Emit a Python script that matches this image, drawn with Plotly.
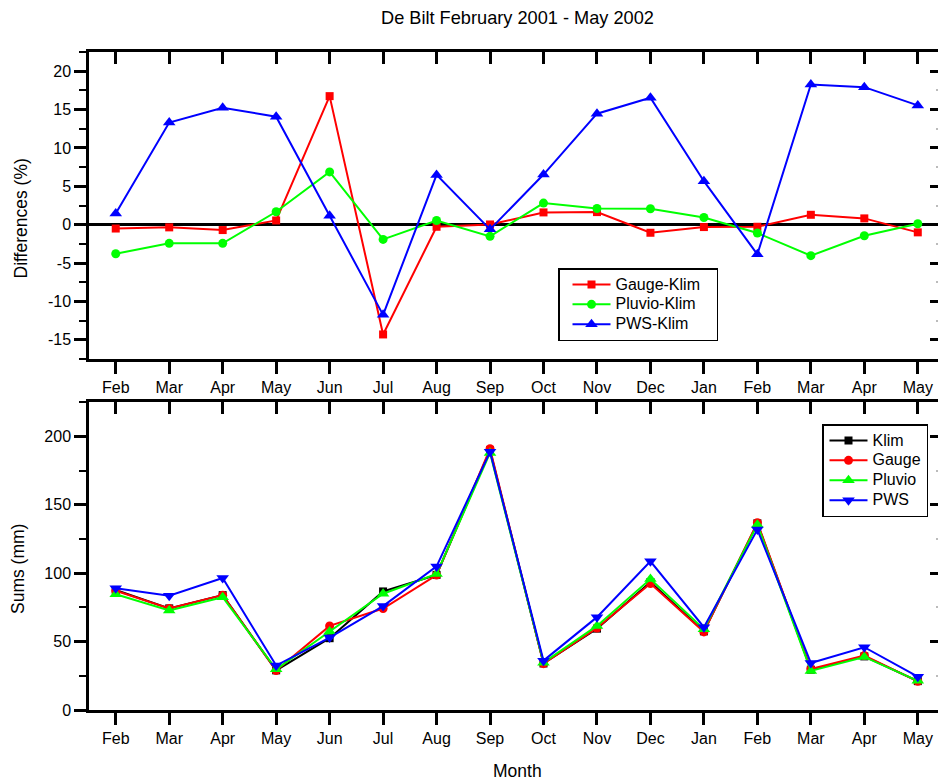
import plotly.graph_objects as go

# Monthly series, February 2001 - May 2002
months = ["Feb", "Mar", "Apr", "May", "Jun", "Jul", "Aug", "Sep",
          "Oct", "Nov", "Dec", "Jan", "Feb", "Mar", "Apr", "May"]

# Relative differences against Klim (%)
gauge_klim = [-0.5, -0.35, -0.7, 0.55, 16.75, -14.3, -0.27, 0.03,
              1.6, 1.64, -1.05, -0.31, -0.27, 1.29, 0.82, -1.0]
pluvio_klim = [-3.78, -2.43, -2.43, 1.68, 6.88, -1.92, 0.55, -1.52,
               2.81, 2.11, 2.07, 0.94, -1.09, -4.04, -1.44, 0.12]
pws_klim = [1.47, 13.3, 15.24, 14.07, 1.16, -11.75, 6.49, -0.61,
            6.53, 14.46, 16.54, 5.67, -3.86, 18.27, 17.92, 15.54]

# Monthly sums (mm)
klim = [87.8, 74.3, 84.0, 29.0, 52.5, 86.7, 98.8, 190.0,
        34.0, 59.5, 93.5, 57.5, 136.5, 29.5, 39.2, 21.1]
gauge = [87.2, 74.2, 84.0, 28.8, 61.5, 74.2, 98.7, 191.0,
         33.9, 60.0, 92.5, 57.1, 137.0, 30.0, 39.8, 21.0]
pluvio = [84.7, 72.8, 82.5, 29.8, 57.4, 85.0, 99.5, 188.0,
          34.6, 61.5, 95.7, 59.1, 135.5, 28.6, 38.8, 21.3]
pws = [89.1, 83.5, 96.5, 32.5, 53.0, 76.0, 105.0, 188.8,
       36.1, 67.9, 108.7, 60.6, 131.9, 34.4, 45.9, 24.4]

diff_ticks = [-15, -10, -5, 0, 5, 10, 15, 20]
diff_ticktext = ["-15", "-10", "-5", "0", "5", "10", "15", "20"]
sum_ticks = [0, 50, 100, 150, 200]
sum_ticktext = ["0", "50", "100", "150", "200"]

x = list(range(len(months)))

W, H = 938, 781
ML, MR, MT, MB = 89, 0, 52, 71
PW, PH = W - ML - MR, H - MT - MB

def px_x(p):
    return (p - ML) / PW

def px_y(p):
    return (H - MB - p) / PH

top_dom = [px_y(359), 1.0]
bot_dom = [0.0, px_y(402.3)]
xrange_ = [-0.5, -0.5 + PW / 53.47]

FONT = "Liberation Sans, Arial, sans-serif"
LW = 2.5
RED, GREEN, BLUE, BLACK = "#FF0000", "#00FF00", "#0000FF", "#000000"

fig = go.Figure()

def entry(text, pad=0):
    # legend label at 16px inside a legend laid out on a 13px line pitch
    return "<span style='font-size:16px'>" + text + "</span>" + "\u00a0" * pad

def line(name, yv, color, symbol, size, xa, ya, legend):
    fig.add_trace(go.Scatter(
        x=x, y=yv, name=name, mode="lines+markers",
        line=dict(color=color, width=2),
        marker=dict(color=color, symbol=symbol, size=size),
        xaxis=xa, yaxis=ya, legend=legend))

# Upper panel: differences
line(entry("Gauge-Klim", 3), gauge_klim, RED, "square", 8, "x", "y", "legend")
line(entry("Pluvio-Klim", 3), pluvio_klim, GREEN, "circle", 9, "x", "y", "legend")
line(entry("PWS-Klim", 3), pws_klim, BLUE, "triangle-up", 11, "x", "y", "legend")

# Lower panel: sums
line(entry("Klim"), klim, BLACK, "square", 8, "x2", "y2", "legend2")
line(entry("Gauge"), gauge, RED, "circle", 9, "x2", "y2", "legend2")
line(entry("Pluvio"), pluvio, GREEN, "triangle-up", 11, "x2", "y2", "legend2")
line(entry("PWS"), pws, BLUE, "triangle-down", 11, "x2", "y2", "legend2")

# Empty traces that carry the top / right frame axes of each panel
for xa, ya in (("x3", "y3"), ("x4", "y4")):
    fig.add_trace(go.Scatter(x=[None], y=[None], xaxis=xa, yaxis=ya,
                             showlegend=False, hoverinfo="skip"))

tickfont = dict(family=FONT, size=16, color="black")

def bottom_x(anchor):
    return dict(range=xrange_, tickmode="array", tickvals=x, ticktext=months,
                ticks="outside", ticklen=12, tickwidth=LW, tickcolor="black",
                showline=True, linewidth=LW, linecolor="black",
                showgrid=False, zeroline=False, tickfont=tickfont,
                anchor=anchor, domain=[0, 1])

def top_x(over, anchor):
    return dict(range=xrange_, tickmode="array", tickvals=x,
                ticks="inside", ticklen=12, tickwidth=LW, tickcolor="black",
                showline=True, linewidth=LW, linecolor="black",
                showgrid=False, zeroline=False, showticklabels=False,
                overlaying=over, side="top", anchor=anchor)

def left_y(rng, tv, tt, minor_dt, dom, anchor, zl):
    return dict(range=rng, tickmode="array", tickvals=tv, ticktext=tt,
                ticks="outside", ticklen=12, tickwidth=LW, tickcolor="black",
                minor=dict(ticks="outside", ticklen=7, tickwidth=2,
                           tickcolor="black", dtick=minor_dt, tick0=0),
                showline=True, linewidth=LW, linecolor="black",
                showgrid=False, zeroline=zl, zerolinecolor="black",
                zerolinewidth=3, tickfont=tickfont, domain=dom, anchor=anchor)

def right_y(rng, tv, minor_dt, over, anchor):
    return dict(range=rng, tickmode="array", tickvals=tv,
                ticks="inside", ticklen=8, tickwidth=LW, tickcolor="black",
                minor=dict(ticks="inside", ticklen=2, tickwidth=1.5,
                           tickcolor="#bbbbbb", dtick=minor_dt, tick0=0),
                showline=False, showgrid=False, zeroline=False,
                showticklabels=False, overlaying=over, side="right",
                anchor=anchor)

drange = [-17.5, 22.5]
srange = [0, 225]

legend_style = dict(xanchor="left", yanchor="top", bgcolor="white",
                    bordercolor="black", borderwidth=1.5, itemwidth=38,
                    font=dict(family=FONT, size=13, color="black"))

fig.update_layout(
    width=W, height=H,
    margin=dict(l=ML, r=MR, t=MT, b=MB),
    paper_bgcolor="white", plot_bgcolor="white",
    font=dict(family=FONT, size=16, color="black"),
    xaxis=bottom_x("y"),
    yaxis=left_y(drange, diff_ticks, diff_ticktext, 2.5, top_dom, "x", True),
    xaxis2=bottom_x("y2"),
    yaxis2=left_y(srange, sum_ticks, sum_ticktext, 25, bot_dom, "x2", False),
    xaxis3=top_x("x", "y3"),
    yaxis3=right_y(drange, diff_ticks, 2.5, "y", "x3"),
    xaxis4=top_x("x2", "y4"),
    yaxis4=right_y(srange, sum_ticks, 25, "y2", "x4"),
    legend=dict(x=px_x(558), y=px_y(268), indentation=8, **legend_style),
    legend2=dict(x=px_x(822), y=px_y(424), indentation=1, **legend_style),
    showlegend=True,
)

def label(text, xp, yp, size, angle=0):
    fig.add_annotation(text=text, x=px_x(xp), y=px_y(yp), xref="paper",
                       yref="paper", xanchor="center", yanchor="middle",
                       showarrow=False, textangle=angle,
                       font=dict(family=FONT, size=size, color="black"))

label("De Bilt February 2001 - May 2002", 517, 18, 18.2)
label("Differences (%)", 21, 218.5, 17.5, -90)
label("Sums (mm)", 18, 569, 17.5, -90)
label("Month", 517, 771, 17.5)

fig.write_html("out.html")
